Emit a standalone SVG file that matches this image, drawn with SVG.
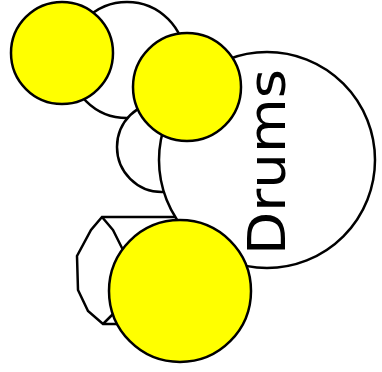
<svg xmlns="http://www.w3.org/2000/svg" width="382" height="372" viewBox="0 0 382 372">
<style>
.w{fill:#ffffff;stroke:#000000;stroke-width:2.5}
.y{fill:#ffff00;stroke:#000000;stroke-width:2.5}
.l{fill:none;stroke:#000000;stroke-width:2.5;stroke-linejoin:round}
.t{font-family:"DejaVu Sans",sans-serif;font-size:52px;fill:#000000}
</style>
<rect width="382" height="372" fill="#ffffff"/>
<g id="connectors"></g>
<g id="top-circle"><circle class="w" cx="127" cy="60" r="58"/></g>
<g id="small-circle"><circle class="w" cx="162" cy="147" r="45"/></g>
<g id="drum-side">
<path class="w" d="M102,217 L200,217 L200,324 L103,324 L88,311 L78,290 L77,256 L91,230 Z"/>
<path class="l" d="M102,217 L113,230 L126,256 L127,290 L116,311 L103,324"/>
</g>
<g id="drums"><circle class="w" cx="267" cy="160" r="108"/></g>
<g id="yellow-1"><circle class="y" cx="62" cy="53" r="51"/></g>
<g id="yellow-2"><circle class="y" cx="187" cy="87" r="54"/></g>
<g id="yellow-3"><circle class="y" cx="180" cy="291" r="71"/></g>
<g id="label"><text class="t" transform="translate(285,255) rotate(-90)" textLength="186" lengthAdjust="spacingAndGlyphs">Drums</text></g>
</svg>
